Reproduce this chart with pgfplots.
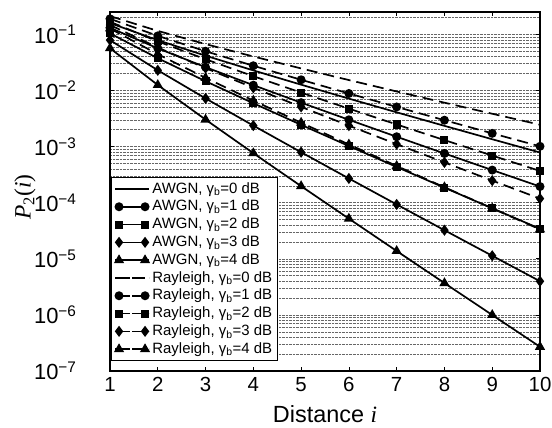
\documentclass[border=0pt]{standalone}
\usepackage{pgfplots}
\pgfplotsset{compat=1.18}
\usepackage{fontspec}
\setmainfont{Liberation Sans}
\newfontfamily\serif{Liberation Serif}
\begin{document}
\begin{tikzpicture}
\begin{axis}[
  scale only axis, width=430bp, height=359bp,
  at={(0,0)}, anchor=south west,
  ymode=log, xmin=1, xmax=10, ymin=1e-7, ymax=0.25,
  xtick={1,2,3,4,5,6,7,8,9,10},
  ytick={1e-7,1e-6,1e-5,1e-4,1e-3,1e-2,1e-1},
  yticklabels={10\textsuperscript{−7},10\textsuperscript{−6},10\textsuperscript{−5},10\textsuperscript{−4},10\textsuperscript{−3},10\textsuperscript{−2},10\textsuperscript{−1}},
  minor ytick={2e-7,3e-7,4e-7,5e-7,6e-7,7e-7,8e-7,9e-7,
               2e-6,3e-6,4e-6,5e-6,6e-6,7e-6,8e-6,9e-6,
               2e-5,3e-5,4e-5,5e-5,6e-5,7e-5,8e-5,9e-5,
               2e-4,3e-4,4e-4,5e-4,6e-4,7e-4,8e-4,9e-4,
               2e-3,3e-3,4e-3,5e-3,6e-3,7e-3,8e-3,9e-3,
               2e-2,3e-2,4e-2,5e-2,6e-2,7e-2,8e-2,9e-2,2e-1},
  ymajorgrids, yminorgrids,
  major grid style={densely dotted, line width=0.5bp, black!60},
  minor grid style={densely dotted, line width=0.5bp, black!60},
  axis line style={line width=2.2bp},
  tick style={black, line width=0.6bp},
  tick align=inside,
  major tick length=4bp, minor tick length=0bp,
  /pgf/number format/assume math mode=true,
  xticklabel style={font=\fontsize{20.5}{23}\selectfont, yshift=-3bp},
  yticklabel style={font=\fontsize{22}{24}\selectfont, xshift=-30bp},
  xlabel={Distance {\serif\itshape i}},
  every axis x label/.style={at={(rel axis cs:0.5,-0.1448)}, anchor=base, font=\fontsize{23.5}{26}\selectfont},
  ylabel={{\serif\itshape P}{\serif\textsubscript{2}(\textit{i})}},
  every axis y label/.style={at={(rel axis cs:-0.1977,0.485)}, anchor=center, rotate=90, font=\fontsize{23.5}{26}\selectfont},
  every axis plot/.append style={line width=1.7bp, black},
  legend style={at={(0.003,0.028)}, anchor=south west,
    draw=black, line width=0.8bp, fill=white, inner sep=2.5bp, row sep=0bp,
    nodes={font=\fontsize{15}{17}\selectfont, text height=11.5bp, text depth=3.3bp, inner ysep=1.5bp, inner xsep=2.5bp},
    cells={anchor=west}},
  legend image code/.code={\path (-4bp,0bp) -- (30bp,0bp);\draw[#1] plot coordinates {(0bp,0bp) (26bp,0bp)};},
]
% AWGN
\addplot[solid] coordinates {(1,0.1587)(2,0.07865)(3,0.04163)(4,0.02275)(5,0.01267)(6,0.007153)(7,0.004075)(8,0.002339)(9,0.001350)(10,0.000783)};
\addlegendentry{AWGN, γ\textsubscript{b}=0 dB}
\addplot[solid, mark=*, mark size=3.6bp, mark options={solid, fill=black}] coordinates {(1,0.1309)(2,0.05628)(3,0.02599)(4,0.01242)(5,0.00606)(6,0.00300)(7,0.001496)(8,0.000753)(9,0.000381)(10,0.000194)};
\addlegendentry{AWGN, γ\textsubscript{b}=1 dB}
\addplot[solid, mark=square*, mark size=3.2bp, mark options={solid, fill=black}] coordinates {(1,0.1040)(2,0.03751)(3,0.01461)(4,0.00591)(5,0.002439)(6,0.001022)(7,0.000433)(8,0.000185)(9,7.94e-5)(10,3.43e-5)};
\addlegendentry{AWGN, γ\textsubscript{b}=2 dB}
\addplot[solid, mark=diamond*, mark size=4.2bp, mark options={solid, fill=black}] coordinates {(1,0.07889)(2,0.02288)(3,0.00721)(4,0.002363)(5,0.000793)(6,0.000270)(7,9.30e-5)(8,3.23e-5)(9,1.131e-5)(10,3.98e-6)};
\addlegendentry{AWGN, γ\textsubscript{b}=3 dB}
\addplot[solid, mark=triangle*, mark size=4.2bp, mark options={solid, fill=black}] coordinates {(1,0.05650)(2,0.01250)(3,0.003024)(4,0.000762)(5,0.000197)(6,5.19e-5)(7,1.377e-5)(8,3.69e-6)(9,9.97e-7)(10,2.70e-7)};
\addlegendentry{AWGN, γ\textsubscript{b}=4 dB}
% Rayleigh
\addplot[dash pattern=on 11bp off 6bp] coordinates {(1,0.2113)(2,0.1151)(3,0.06699)(4,0.04026)(5,0.02467)(6,0.01531)(7,0.009594)(8,0.006055)(9,0.003843)(10,0.002450)};
\addlegendentry{Rayleigh, γ\textsubscript{b}=0 dB}
\addplot[dash pattern=on 11bp off 6bp, mark=*, mark size=3.6bp, mark options={solid, fill=black}] coordinates {(1,0.1892)(2,0.09388)(3,0.04999)(4,0.02754)(5,0.01549)(6,0.008828)(7,0.005083)(8,0.002948)(9,0.001720)(10,0.001009)};
\addlegendentry{Rayleigh, γ\textsubscript{b}=1 dB}
\addplot[dash pattern=on 11bp off 6bp, mark=square*, mark size=3.2bp, mark options={solid, fill=black}] coordinates {(1,0.1675)(2,0.07481)(3,0.03600)(4,0.01796)(5,0.009158)(6,0.004736)(7,0.002475)(8,0.001303)(9,6.905e-4)(10,3.677e-4)};
\addlegendentry{Rayleigh, γ\textsubscript{b}=2 dB}
\addplot[dash pattern=on 11bp off 6bp, mark=diamond*, mark size=4.2bp, mark options={solid, fill=black}] coordinates {(1,0.1467)(2,0.05822)(3,0.02501)(4,0.01116)(5,0.005092)(6,0.002359)(7,0.001104)(8,5.212e-4)(9,2.475e-4)(10,1.182e-4)};
\addlegendentry{Rayleigh, γ\textsubscript{b}=3 dB}
\addplot[dash pattern=on 11bp off 6bp, mark=triangle*, mark size=4.2bp, mark options={solid, fill=black}] coordinates {(1,0.1269)(2,0.04424)(3,0.01675)(4,0.006599)(5,0.002661)(6,0.001090)(7,4.511e-4)(8,1.883e-4)(9,7.915e-5)(10,3.343e-5)};
\addlegendentry{Rayleigh, γ\textsubscript{b}=4 dB}
\end{axis}
\pgfresetboundingbox
\path (-110bp,-57bp) rectangle (442bp,371bp);
\end{tikzpicture}
\end{document}
